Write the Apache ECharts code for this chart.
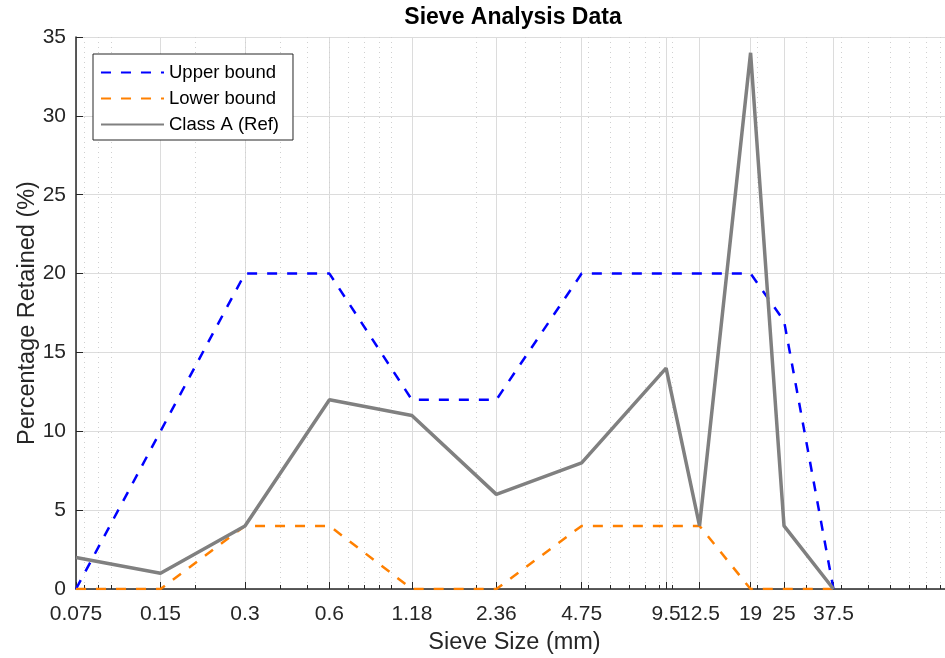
<!DOCTYPE html>
<html>
<head>
<meta charset="utf-8">
<script src="https://cdn.jsdelivr.net/npm/echarts@6/dist/echarts.min.js"></script>
<style>
html,body{margin:0;padding:0;background:#fff;}
#chart{width:945px;height:658px;}
</style>
</head>
<body>
<div id="chart"></div>
<script>
// Sieve sizes (mm) and tick labels
var sieveSizes = [0.075, 0.15, 0.3, 0.6, 1.18, 2.36, 4.75, 9.5, 12.5, 19, 25, 37.5];
var xTickValues = [0.075, 0.15, 0.3, 0.6, 1.18, 2.36, 4.75, 9.5, 12.5, 19, 25, 37.5];
var xMinorValues = [0.08, 0.09, 0.1, 0.2, 0.3, 0.4, 0.5, 0.6, 0.7, 0.8, 0.9, 1, 2, 3, 4, 5, 6, 7, 8, 9, 10, 20, 30, 40, 50, 60, 70, 80, 90, 100];
var yTickValues = [0, 5, 10, 15, 20, 25, 30, 35];
// Series values (% retained)
var upperBound = [0, 10, 20, 20, 12, 12, 20, 20, 20, 20, 17, 0];
var lowerBound = [0, 0, 4, 4, 0, 0, 4, 4, 4, 0, 0, 0];
var classA = [2, 1, 4, 12, 11, 6, 8, 14, 4, 34, 4, 0];

function pairs(xs, ys) { return xs.map(function (x, i) { return [x, ys[i]]; }); }

var FONT = 'Liberation Sans, Arial, sans-serif';
var chart = echarts.init(document.getElementById('chart'), null, {renderer: 'canvas'});
chart.setOption({
  animation: false,
  backgroundColor: '#ffffff',
  title: {
    text: 'Sieve Analysis Data',
    left: 513, top: 6, padding: 0, textAlign: 'center',
    textStyle: {fontFamily: FONT, fontSize: 23, fontWeight: 'bold', color: '#000'}
  },
  grid: {left: 76, width: 877, top: 37, bottom: 69, containLabel: false, outerBoundsMode: 'none'},
  legend: {
    orient: 'vertical', left: 93, top: 54,
    padding: [9, 14, 6, 7],
    itemGap: 7, itemWidth: 63, itemHeight: 14,
    backgroundColor: '#fff', borderColor: '#262626', borderWidth: 1,
    itemStyle: {color: 'rgba(0,0,0,0)', borderWidth: 0, opacity: 0},
    textStyle: {fontFamily: FONT, fontSize: 18.5, color: '#000'},
    data: ['Upper bound', 'Lower bound', 'Class A (Ref)']
  },
  xAxis: [{
    type: 'log', logBase: 10, min: 0.075, max: 100,
    position: 'bottom',
    name: 'Sieve Size (mm)', nameLocation: 'middle', nameGap: 42, nameMoveOverlap: false,
    nameTextStyle: {fontFamily: FONT, fontSize: 23.5, color: '#262626'},
    axisLine: {show: true, onZero: false, lineStyle: {color: '#262626', width: 1.5}},
    axisTick: {show: true, inside: true, length: 7, customValues: xTickValues, lineStyle: {color: '#262626'}},
    axisLabel: {show: true, customValues: xTickValues, margin: 15, fontFamily: FONT, fontSize: 21, color: '#262626',
      hideOverlap: false,
      formatter: function (v) { return String(+v.toPrecision(4)); }},
    splitLine: {show: true, lineStyle: {color: '#dcdcdc', width: 1}},
    minorTick: {show: false}, minorSplitLine: {show: false}
  }, {
    type: 'log', logBase: 10, min: 0.075, max: 100,
    position: 'bottom',
    axisLine: {show: false},
    axisTick: {show: true, inside: true, length: 4, customValues: xMinorValues, lineStyle: {color: '#262626'}},
    axisLabel: {show: false, customValues: xMinorValues},
    splitLine: {show: true, lineStyle: {color: '#d0d0d0', width: 1, type: [1, 4]}}
  }],
  yAxis: {
    type: 'value', min: 0, max: 35, interval: 5,
    name: 'Percentage Retained (%)', nameLocation: 'middle', nameGap: 36, nameMoveOverlap: false,
    nameTextStyle: {fontFamily: FONT, fontSize: 23.5, color: '#262626'},
    axisLine: {show: true, onZero: false, lineStyle: {color: '#262626', width: 1.5}},
    axisTick: {show: true, inside: true, length: 7, lineStyle: {color: '#262626'}},
    axisLabel: {margin: 10, fontFamily: FONT, fontSize: 21, color: '#262626'},
    splitLine: {show: true, lineStyle: {color: '#dcdcdc', width: 1}}
  },
  series: [{
    name: 'Upper bound', type: 'line', xAxisIndex: 0, symbol: 'none', z: 3,
    data: pairs(sieveSizes, upperBound),
    itemStyle: {color: '#0000ff'},
    lineStyle: {color: '#0000ff', width: 2.5, type: [10, 10]}
  }, {
    name: 'Lower bound', type: 'line', xAxisIndex: 0, symbol: 'none', z: 3,
    data: pairs(sieveSizes, lowerBound),
    itemStyle: {color: '#ff8000'},
    lineStyle: {color: '#ff8000', width: 2.5, type: [10, 10]}
  }, {
    name: 'Class A (Ref)', type: 'line', xAxisIndex: 0, symbol: 'none', z: 4,
    data: pairs(sieveSizes, classA),
    itemStyle: {color: '#808080'},
    lineStyle: {color: '#808080', width: 3.5}
  }]
});
</script>
</body>
</html>
